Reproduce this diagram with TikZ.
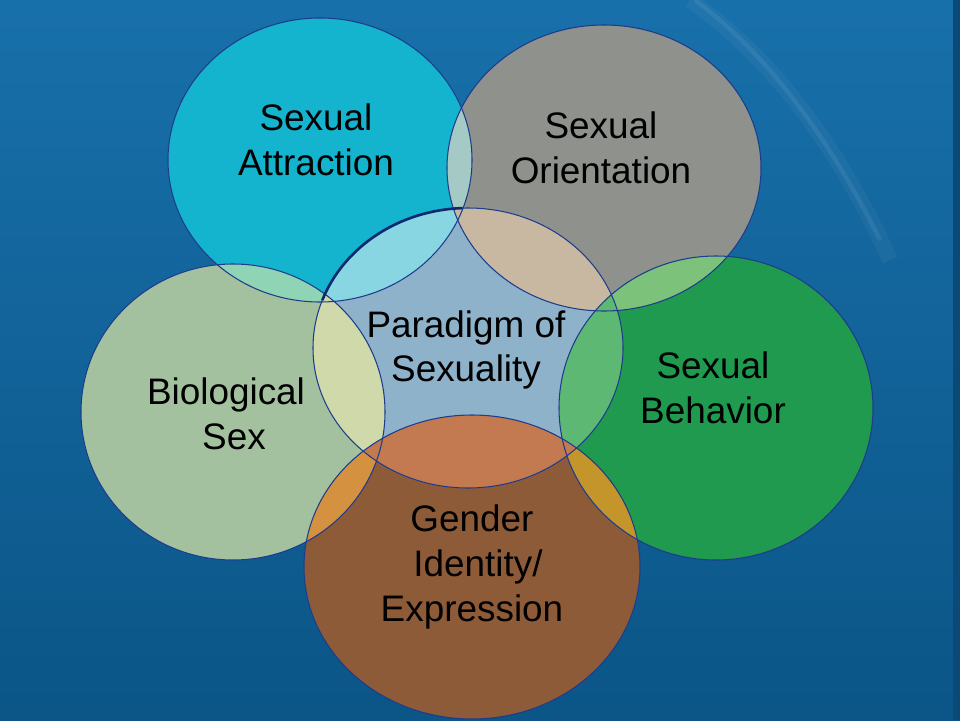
\documentclass[tikz,border=0pt]{standalone}
\usepackage{fontspec}
\setmainfont{Liberation Sans}

\definecolor{bgtop}{HTML}{1870AA}
\definecolor{bgbot}{HTML}{0B5587}
\definecolor{bgedge}{HTML}{0B4A76}
\definecolor{rimblue}{HTML}{1E3C8C}
\definecolor{rimnavy}{HTML}{0E2A6E}
\definecolor{atrc}{HTML}{14B4CF}
\definecolor{oric}{HTML}{8E918C}
\definecolor{parc}{HTML}{8FB2CB}
\definecolor{bioc}{HTML}{A4C19F}
\definecolor{behc}{HTML}{1F9A4F}
\definecolor{genc}{HTML}{8E5B38}
\definecolor{ovAP}{HTML}{88D6E2}
\definecolor{ovOP}{HTML}{C8B8A2}
\definecolor{ovBP}{HTML}{CFD9AA}
\definecolor{ovHP}{HTML}{5CB873}
\definecolor{ovGP}{HTML}{C47A50}
\definecolor{ovAB}{HTML}{8FD5B5}
\definecolor{ovAO}{HTML}{A5C9C5}
\definecolor{ovOH}{HTML}{7CC27A}
\definecolor{ovBG}{HTML}{D4913F}
\definecolor{ovHG}{HTML}{C3952A}

% the six rings, in pixel units
\newcommand{\ringatr}{(320,160) ellipse [x radius=152, y radius=142]}
\newcommand{\ringori}{(604,168) ellipse [x radius=157, y radius=143]}
\newcommand{\ringpar}{(468,348) ellipse [x radius=155, y radius=140]}
\newcommand{\ringbio}{(233,412) ellipse [x radius=152, y radius=148]}
\newcommand{\ringbeh}{(716,408) ellipse [x radius=157, y radius=152]}
\newcommand{\ringgen}{(472,567) ellipse [x radius=168, y radius=152]}

\tikzset{
  lbl/.style={align=center, font=\fontsize{21}{25.5}\selectfont, text=black, inner sep=0pt},
  rim/.style={draw=rimblue, line width=0.6pt},
  streak/.style={draw=white, line cap=butt},
}

\begin{document}
\begin{tikzpicture}[x=0.02cm, y=-0.02cm]
  \useasboundingbox (0,0) rectangle (960,720);
  % background
  \shade[top color=bgtop, bottom color=bgbot] (0,0) rectangle (960,720);
  \fill[bgedge] (953,0) rectangle (960,720);
  \path[streak, line width=9pt, opacity=0.04] (690,0) .. controls (775,60) and (840,150) .. (890,260);
  \path[streak, line width=2.5pt, opacity=0.07] (695,0) .. controls (775,60) and (835,150) .. (880,240);
  % rings
  \fill[atrc] \ringatr;
  \fill[oric] \ringori;
  \fill[bioc] \ringbio;
  \fill[behc] \ringbeh;
  \fill[genc] \ringgen;
  \fill[parc] \ringpar;
  % overlaps between outer rings
  \begin{scope} \clip \ringatr; \fill[ovAO] \ringori; \end{scope}
  \begin{scope} \clip \ringatr; \fill[ovAB] \ringbio; \end{scope}
  \begin{scope} \clip \ringori; \fill[ovOH] \ringbeh; \end{scope}
  \begin{scope} \clip \ringbio; \fill[ovBG] \ringgen; \end{scope}
  \begin{scope} \clip \ringbeh; \fill[ovHG] \ringgen; \end{scope}
  % overlaps with the centre ring
  \begin{scope} \clip \ringpar; \fill[ovAP] \ringatr; \end{scope}
  \begin{scope} \clip \ringpar; \fill[ovOP] \ringori; \end{scope}
  \begin{scope} \clip \ringpar; \fill[ovBP] \ringbio; \end{scope}
  \begin{scope} \clip \ringpar; \fill[ovHP] \ringbeh; \end{scope}
  \begin{scope} \clip \ringpar; \fill[ovGP] \ringgen; \end{scope}
  % outlines
  \path[rim] \ringatr;
  \path[rim] \ringori;
  \path[rim] \ringbio;
  \path[rim] \ringbeh;
  \path[rim] \ringgen;
  \path[rim] \ringpar;
  \draw[rimnavy, line width=1.5pt] (468,348) ++(200:155 and 140) arc [start angle=200, end angle=268, x radius=155, y radius=140];
  % labels
  \node[lbl] (attr) at (316,140) {Sexual\\Attraction};
  \node[lbl] (orient) at (601,148) {Sexual\\Orientation};
  \node[lbl] (parad) at (466,350) {Paradigm of\\Sexuality};
  \node[lbl] (biosex) at (226,414) {Biological\\\hspace*{0.32cm}Sex};
  \node[lbl] (behav) at (713,388) {Sexual\\Behavior};
  \node[lbl] (gender) at (472,567) {Gender\\\hspace*{0.24cm}Identity/\\Expression};
\end{tikzpicture}
\end{document}
